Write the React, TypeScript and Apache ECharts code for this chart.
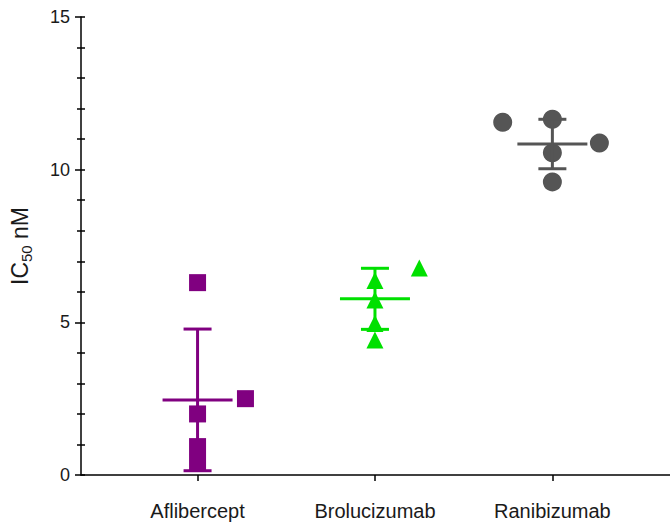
import React, { useEffect, useRef } from "react";
import * as echarts from "echarts";

const categories = ["Aflibercept", "Brolucizumab", "Ranibizumab"];
const categoryPositions = [0, 1, 2];

const afliValues = [6.3, 2.5, 2.0, 0.93, 0.38];
const afliJitter = [0, 0.27, 0, 0, 0];
const broluValues = [6.78, 6.37, 5.73, 4.96, 4.42];
const broluJitter = [0.25, 0, 0, 0, 0];
const raniValues = [11.55, 11.65, 10.87, 10.55, 9.6];
const raniJitter = [-0.28, 0, 0.265, 0, 0];

const means = [2.46, 5.77, 10.84];
const sds = [2.32, 1.0, 0.81];

const colors = ["#800080", "#00e000", "#555555"];
const symbols = ["rect", "triangle", "circle"];
const symbolSizes = [17, 17, 19];

const groups = [
  { values: afliValues, jitter: afliJitter },
  { values: broluValues, jitter: broluJitter },
  { values: raniValues, jitter: raniJitter },
];

const FONT = "'Liberation Sans', Arial, sans-serif";

export default function App() {
  const ref = useRef<HTMLDivElement>(null);
  useEffect(() => {
    if (!ref.current) return;
    const chart = echarts.init(ref.current, null, { renderer: "svg" });
    const scatterSeries = groups.map((g, i) => ({
      type: "scatter",
      symbol: symbols[i],
      symbolSize: symbolSizes[i],
      itemStyle: { color: colors[i], opacity: 1 },
      data: g.values.map((v, j) => [categoryPositions[i] + g.jitter[j], v]),
      z: 2,
    }));
    const errorSeries = {
      type: "custom",
      z: 3,
      data: categoryPositions.map((x, i) => [x, means[i], sds[i], i]),
      renderItem: (params: any, api: any) => {
        const x = api.value(0);
        const m = api.value(1);
        const s = api.value(2);
        const idx = api.value(3);
        const c = api.coord([x, m]);
        const top = api.coord([x, m + s]);
        const bot = api.coord([x, m - s]);
        const stroke = colors[idx];
        const style = { stroke, lineWidth: 3 };
        return {
          type: "group",
          children: [
            { type: "line", shape: { x1: c[0] - 35, y1: c[1], x2: c[0] + 35, y2: c[1] }, style },
            { type: "line", shape: { x1: c[0], y1: top[1], x2: c[0], y2: bot[1] }, style },
            { type: "line", shape: { x1: c[0] - 14, y1: top[1], x2: c[0] + 14, y2: top[1] }, style },
            { type: "line", shape: { x1: c[0] - 14, y1: bot[1], x2: c[0] + 14, y2: bot[1] }, style },
          ],
        };
      },
    };
    const tickStyle = { color: "#000", width: 1.5 };
    chart.setOption({
      animation: false,
      grid: { left: 79, top: 17, right: 0, bottom: 49, containLabel: false },
      xAxis: {
        type: "value",
        min: -0.657,
        max: 2.663,
        splitLine: { show: false },
        axisLine: { show: true, onZero: false, lineStyle: { color: "#000", width: 1.5 } },
        axisTick: { show: true, customValues: categoryPositions, length: 6, lineStyle: tickStyle },
        axisLabel: {
          customValues: categoryPositions,
          formatter: (v: number) => categories[Math.round(v)] ?? "",
          fontSize: 20,
          fontFamily: FONT,
          color: "#1a1a1a",
          margin: 26,
        },
      },
      yAxis: [
        {
          type: "value",
          min: 0,
          max: 15,
          interval: 5,
          name: "{a|IC}{b|50}{a| nM}",
          nameLocation: "middle",
          nameGap: 50,
          nameRotate: 90,
          nameTextStyle: {
            rich: {
              a: { fontSize: 23, fontFamily: FONT, color: "#1a1a1a", verticalAlign: "bottom" },
              b: { fontSize: 15, fontFamily: FONT, color: "#1a1a1a", verticalAlign: "bottom", padding: [0, 0, -3, 0] },
            },
          },
          splitLine: { show: false },
          axisLine: { show: true, onZero: false, lineStyle: { color: "#000", width: 1.5 } },
          axisTick: { show: true, length: 6, lineStyle: tickStyle },
          minorTick: { show: true, splitNumber: 5, length: 4, lineStyle: tickStyle },
          axisLabel: { fontSize: 18, fontFamily: FONT, color: "#1a1a1a", margin: 11 },
        },
        {
          type: "value",
          min: 0,
          max: 15,
          interval: 5,
          position: "left",
          offset: 0,
          splitLine: { show: false },
          axisLine: { show: false, onZero: false },
          axisLabel: { show: false },
          axisTick: { show: true, inside: true, length: 4, lineStyle: tickStyle },
          minorTick: { show: true, splitNumber: 5, length: 4, lineStyle: tickStyle },
        },
      ],
      series: [...scatterSeries, errorSeries],
    });
    return () => chart.dispose();
  }, []);
  return (
    <div
      ref={ref}
      style={{ position: "fixed", left: 0, top: 0, width: 670, height: 524, background: "#fff" }}
    />
  );
}
